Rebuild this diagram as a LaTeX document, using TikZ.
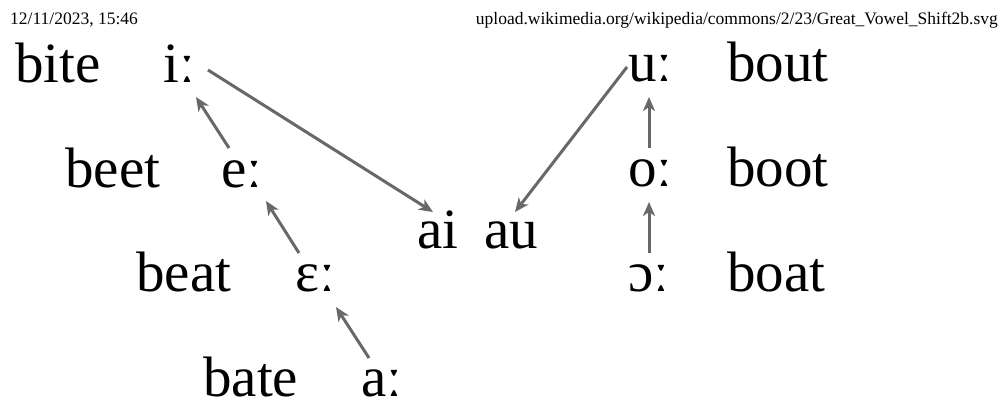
\documentclass[tikz,border=0pt]{standalone}
\usepackage{fontspec}
\setmainfont{Liberation Serif}
\usetikzlibrary{arrows.meta}
\definecolor{arrowgray}{RGB}{104,104,104}
\tikzset{
  word/.style={anchor=base west, inner sep=0pt, font=\fontsize{57}{60}\selectfont},
  hdr/.style={inner sep=0pt, font=\fontsize{17.5}{20}\selectfont},
  arr/.style={draw=arrowgray, line width=3pt, -{Stealth[length=14pt,width=12pt,inset=4pt]}}
}
\begin{document}
\begin{tikzpicture}[x=1pt,y=-1pt]
\useasboundingbox (0,0) rectangle (1002,403);
% headers
\node[hdr, anchor=base west] (date) at (10,25) {12/11/2023, 15:46};
\node[hdr, anchor=base east] (url) at (998,25) {upload.wikimedia.org/wikipedia/commons/2/23/Great\_Vowel\_Shift2b.svg};
% left column
\node[word] (bite) at (15,83) {bite};
\node[word] (iV) at (163,83) {iː};
\node[word] (beet) at (65,188) {beet};
\node[word] (eV) at (221,188) {eː};
\node[word] (beat) at (136,292) {beat};
\node[word] (EV) at (295,292) {ɛː};
\node[word] (bate) at (203,396) {bate};
\node[word] (aV) at (361,396) {aː};
% middle
\node[word] (ai) at (417,249) {ai};
\node[word] (au) at (484,249) {au};
% right column
\node[word] (uV) at (628,82) {uː};
\node[word] (bout) at (727,82) {bout};
\node[word] (oV) at (628,187) {oː};
\node[word] (boot) at (727,187) {boot};
\node[word] (OV) at (628,292) {ɔː};
\node[word] (boat) at (727,292) {boat};
% arrow end points
\coordinate (eTail) at (229,148);
\coordinate (iTip) at (196,97);
\coordinate (ETail) at (299,253);
\coordinate (eTip) at (266,201);
\coordinate (aTail) at (369,358);
\coordinate (ETip) at (336,307);
\coordinate (iTail) at (208,70);
\coordinate (aiTip) at (433,212);
\coordinate (uTail) at (627,67);
\coordinate (auTip) at (515,212);
\coordinate (oTail) at (649,148);
\coordinate (uTip) at (649,97);
\coordinate (OTail) at (649,253);
\coordinate (oTip) at (649,202);
% arrows
\draw[arr] (eTail) -- (iTip);
\draw[arr] (ETail) -- (eTip);
\draw[arr] (aTail) -- (ETip);
\draw[arr] (iTail) -- (aiTip);
\draw[arr] (uTail) -- (auTip);
\draw[arr] (oTail) -- (uTip);
\draw[arr] (OTail) -- (oTip);
\end{tikzpicture}
\end{document}
